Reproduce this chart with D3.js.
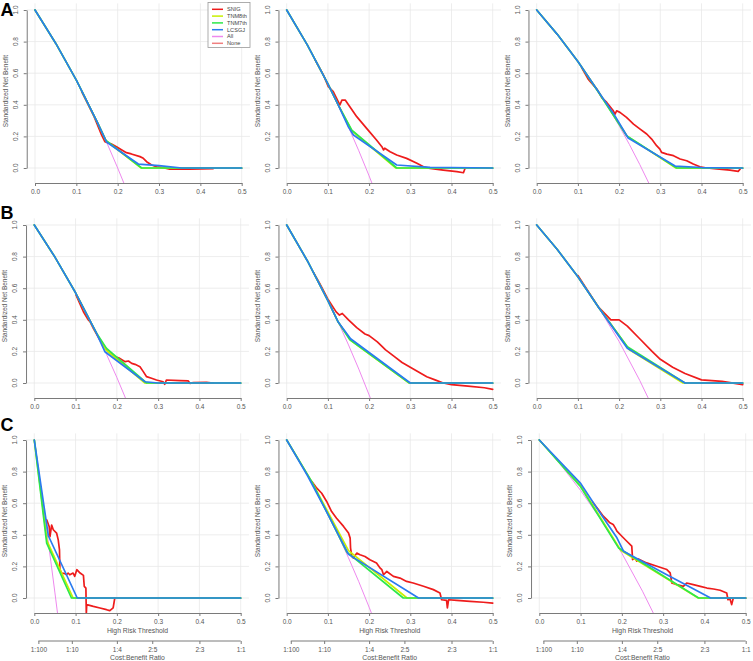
<!DOCTYPE html>
<html><head><meta charset="utf-8">
<script src="https://cdn.jsdelivr.net/npm/d3@7"></script>
<style>body{margin:0;background:#fff} svg{display:block;font-family:"Liberation Sans",Arial,sans-serif}</style>
</head><body><svg id="chart" width="753" height="661"></svg>
<script>
// ---------- shared labels ----------
const seriesNames = ["SNIG","TNM8th","TNM7th","LCSGJ","All","None"];
const thresholdTicks = [0,0.1,0.2,0.3,0.4,0.5];
const benefitTicks = [0,0.2,0.4,0.6,0.8,1.0];
const costBenefitLabels = ["1:100","1:10","1:4","2:5","2:3","1:1"];
const costBenefitAt = [0.0099,0.0909,0.2,0.2857,0.4,0.5];
const panelLetters = ["A","B","C"];

// ---------- row A ----------
const a1Snig = [[0.113,0.483],[0.143,0.325],[0.161,0.209],[0.169,0.167],[0.185,0.152],[0.197,0.135],[0.221,0.097],[0.233,0.089],[0.254,0.072],[0.262,0.061],[0.27,0.04],[0.282,0.019],[0.294,0.008],[0.31,0.002],[0.326,-0.008],[0.374,-0.008],[0.431,-0.004]];
const a1Tnm8 = [[0,1],[0.05,0.79],[0.1,0.556],[0.15,0.294],[0.172,0.172],[0.257,0],[0.5,0]];
const a1Tnm7 = [[0,1],[0.05,0.79],[0.1,0.556],[0.15,0.294],[0.171,0.176],[0.258,0],[0.5,0]];
const a1Lcsgj = [[0,1],[0.05,0.79],[0.1,0.556],[0.15,0.294],[0.173,0.165],[0.25,0.025],[0.3,0.015],[0.355,0],[0.5,0]];
const a1All = [[0,1],[0.025,0.897],[0.05,0.79],[0.075,0.676],[0.1,0.556],[0.125,0.429],[0.15,0.294],[0.175,0.152],[0.2,0],[0.216,-0.102]];

const a2Snig = [[0.069,0.684],[0.089,0.589],[0.101,0.515],[0.113,0.483],[0.125,0.42],[0.129,0.399],[0.134,0.43],[0.142,0.43],[0.17,0.325],[0.194,0.251],[0.218,0.177],[0.231,0.135],[0.235,0.114],[0.238,0.125],[0.251,0.103],[0.267,0.082],[0.291,0.061],[0.316,0.03],[0.332,0.008],[0.348,-0.002],[0.38,-0.013],[0.413,-0.023],[0.429,-0.03],[0.433,-0.002]];
const a2Tnm8 = [[0,1],[0.05,0.779],[0.1,0.533],[0.125,0.4],[0.158,0.235],[0.265,0],[0.5,0]];
const a2Tnm7 = [[0,1],[0.05,0.779],[0.1,0.533],[0.125,0.4],[0.158,0.24],[0.267,0],[0.5,0]];
const a2Lcsgj = [[0,1],[0.05,0.779],[0.1,0.533],[0.125,0.4],[0.15,0.259],[0.162,0.209],[0.267,0.019],[0.348,0.004],[0.5,0]];
const a2All = [[0,1],[0.025,0.892],[0.05,0.779],[0.075,0.659],[0.1,0.533],[0.125,0.4],[0.15,0.259],[0.175,0.109],[0.2,-0.05],[0.21,-0.117]];

const a3Snig = [[0.109,0.636],[0.125,0.562],[0.146,0.499],[0.158,0.446],[0.17,0.415],[0.186,0.362],[0.19,0.341],[0.194,0.362],[0.202,0.352],[0.218,0.32],[0.235,0.278],[0.251,0.246],[0.267,0.215],[0.279,0.183],[0.291,0.141],[0.299,0.12],[0.303,0.099],[0.316,0.088],[0.332,0.078],[0.348,0.057],[0.364,0.046],[0.38,0.025],[0.396,0.008],[0.413,0],[0.437,-0.006],[0.469,-0.013],[0.489,-0.021],[0.494,-0.006]];
const a3Tnm8 = [[0,1],[0.05,0.846],[0.1,0.674],[0.15,0.483],[0.22,0.2],[0.338,0],[0.5,0]];
const a3Tnm7 = [[0,1],[0.05,0.846],[0.1,0.674],[0.15,0.48],[0.218,0.205],[0.34,0],[0.5,0]];
const a3Lcsgj = [[0,1],[0.05,0.846],[0.1,0.674],[0.15,0.483],[0.19,0.33],[0.222,0.19],[0.336,0.012],[0.4,0.003],[0.5,0]];
const a3All = [[0,1],[0.025,0.925],[0.05,0.846],[0.075,0.762],[0.1,0.674],[0.125,0.581],[0.15,0.483],[0.175,0.378],[0.2,0.268],[0.225,0.149],[0.25,0.023],[0.275,-0.111]];

// ---------- row B ----------
const b1Snig = [[0.101,0.557],[0.119,0.451],[0.131,0.399],[0.135,0.388],[0.143,0.346],[0.159,0.272],[0.167,0.241],[0.179,0.198],[0.195,0.167],[0.207,0.156],[0.22,0.135],[0.228,0.139],[0.236,0.124],[0.244,0.118],[0.256,0.103],[0.264,0.072],[0.272,0.04],[0.284,0.03],[0.296,0.019],[0.312,0.008],[0.316,-0.008],[0.32,0.019],[0.353,0.015],[0.373,0.013],[0.377,-0.002],[0.385,0.002],[0.417,0.004],[0.433,0]];
const b1Tnm8 = [[0,1],[0.05,0.797],[0.1,0.571],[0.15,0.319],[0.174,0.209],[0.268,0],[0.5,0]];
const b1Tnm7 = [[0,1],[0.05,0.797],[0.1,0.571],[0.15,0.319],[0.175,0.219],[0.272,0],[0.5,0]];
const b1Lcsgj = [[0,1],[0.05,0.797],[0.1,0.571],[0.15,0.319],[0.171,0.198],[0.268,0.008],[0.3,0],[0.5,0]];
const b1All = [[0,1],[0.025,0.901],[0.05,0.797],[0.075,0.687],[0.1,0.571],[0.125,0.449],[0.15,0.319],[0.175,0.181],[0.2,0.035],[0.225,-0.121]];

const b2Snig = [[0.065,0.7],[0.08,0.63],[0.1,0.53],[0.12,0.45],[0.128,0.43],[0.135,0.44],[0.15,0.4],[0.17,0.35],[0.19,0.31],[0.2,0.3],[0.22,0.26],[0.24,0.21],[0.26,0.17],[0.28,0.13],[0.3,0.1],[0.32,0.07],[0.34,0.04],[0.36,0.02],[0.38,0.0],[0.4,-0.01],[0.44,-0.02],[0.48,-0.03],[0.5,-0.04]];
const b2Tnm8 = [[0,1],[0.05,0.774],[0.1,0.522],[0.125,0.386],[0.155,0.27],[0.297,0],[0.5,0]];
const b2Tnm7 = [[0,1],[0.05,0.774],[0.1,0.522],[0.125,0.386],[0.153,0.275],[0.298,0],[0.5,0]];
const b2Lcsgj = [[0,1],[0.05,0.774],[0.1,0.522],[0.125,0.386],[0.155,0.28],[0.3,0],[0.5,0]];
const b2All = [[0,1],[0.025,0.89],[0.05,0.774],[0.075,0.651],[0.1,0.522],[0.125,0.386],[0.15,0.241],[0.175,0.088],[0.2,-0.075],[0.21,-0.143]];

const b3Snig = [[0.1,0.68],[0.12,0.6],[0.15,0.48],[0.18,0.4],[0.2,0.4],[0.22,0.36],[0.25,0.28],[0.28,0.2],[0.3,0.15],[0.33,0.1],[0.36,0.06],[0.4,0.02],[0.45,0.01],[0.5,-0.01]];
const b3Tnm8 = [[0,1],[0.05,0.845],[0.1,0.672],[0.15,0.479],[0.225,0.21],[0.355,0],[0.5,0]];
const b3Tnm7 = [[0,1],[0.05,0.845],[0.1,0.672],[0.15,0.479],[0.22,0.23],[0.36,0],[0.5,0]];
const b3Lcsgj = [[0,1],[0.05,0.845],[0.1,0.672],[0.15,0.479],[0.22,0.22],[0.36,0],[0.5,0]];
const b3All = [[0,1],[0.05,0.845],[0.1,0.672],[0.15,0.479],[0.2,0.263],[0.25,0.017],[0.275,-0.119]];

// ---------- row C ----------
const c1Snig = [[0.03,0.495],[0.036,0.453],[0.038,0.389],[0.042,0.461],[0.046,0.432],[0.054,0.411],[0.058,0.368],[0.061,0.305],[0.062,0.179],[0.066,0.158],[0.074,0.154],[0.078,0.147],[0.082,0.158],[0.086,0.147],[0.094,0.158],[0.098,0.137],[0.103,0.179],[0.111,0.158],[0.119,0.143],[0.121,0.074],[0.125,0.063],[0.126,-0.1],[0.127,-0.042],[0.143,-0.053],[0.159,-0.063],[0.175,-0.074],[0.183,-0.08],[0.191,-0.063],[0.195,0]];
const c1Tnm8 = [[0,1],[0.031,0.36],[0.094,0],[0.5,0]];
const c1Tnm7 = [[0,1],[0.03,0.347],[0.09,0],[0.5,0]];
const c1Lcsgj = [[0,1],[0.034,0.394],[0.104,0],[0.5,0]];
const c1All = [[0,1],[0.01,0.814],[0.02,0.624],[0.03,0.431],[0.04,0.233],[0.05,0.032],[0.057,-0.112]];

const c2Snig = [[0.061,0.737],[0.073,0.695],[0.085,0.663],[0.097,0.611],[0.109,0.547],[0.121,0.505],[0.138,0.453],[0.15,0.411],[0.154,0.379],[0.155,0.316],[0.158,0.263],[0.162,0.253],[0.17,0.284],[0.178,0.274],[0.19,0.263],[0.202,0.242],[0.218,0.221],[0.227,0.189],[0.231,0.179],[0.235,0.147],[0.243,0.168],[0.259,0.137],[0.275,0.126],[0.291,0.105],[0.307,0.095],[0.332,0.074],[0.356,0.053],[0.372,0.032],[0.376,-0.011],[0.388,-0.015],[0.39,-0.063],[0.393,-0.011],[0.413,-0.015],[0.445,-0.021],[0.477,-0.027],[0.5,-0.032]];
const c2Tnm8 = [[0,1],[0.06,0.74],[0.15,0.3],[0.292,0],[0.5,0]];
const c2Tnm7 = [[0,1],[0.06,0.74],[0.146,0.29],[0.283,0],[0.5,0]];
const c2Lcsgj = [[0,1],[0.05,0.777],[0.1,0.53],[0.15,0.276],[0.32,0],[0.5,0]];
const c2All = [[0,1],[0.025,0.892],[0.05,0.777],[0.075,0.657],[0.1,0.53],[0.125,0.396],[0.15,0.254],[0.175,0.103],[0.2,-0.058],[0.21,-0.124]];

const c3Snig = [[0.129,0.607],[0.143,0.56],[0.155,0.518],[0.163,0.497],[0.171,0.476],[0.179,0.465],[0.184,0.444],[0.188,0.423],[0.2,0.391],[0.212,0.359],[0.224,0.328],[0.226,0.243],[0.232,0.254],[0.236,0.233],[0.24,0.247],[0.26,0.222],[0.285,0.201],[0.309,0.18],[0.317,0.159],[0.321,0.095],[0.333,0.085],[0.349,0.074],[0.357,0.095],[0.373,0.085],[0.39,0.074],[0.406,0.063],[0.422,0.057],[0.438,0.049],[0.454,0.032],[0.457,-0.011],[0.462,-0.006],[0.466,-0.042],[0.47,0],[0.5,0]];
const c3Tnm8 = [[0,1],[0.099,0.715],[0.198,0.3],[0.385,0],[0.5,0]];
const c3Tnm7 = [[0,1],[0.099,0.708],[0.192,0.317],[0.386,0],[0.5,0]];
const c3Lcsgj = [[0,1],[0.099,0.729],[0.147,0.539],[0.188,0.381],[0.204,0.296],[0.301,0.159],[0.415,0],[0.5,0]];
const c3All = [[0,1],[0.05,0.849],[0.1,0.681],[0.15,0.494],[0.2,0.283],[0.25,0.043],[0.278,-0.105]];

// ---------- assemble panels ----------
const panelSeries = [
  [[a1Snig,a1Tnm8,a1Tnm7,a1Lcsgj,a1All],[a2Snig,a2Tnm8,a2Tnm7,a2Lcsgj,a2All],[a3Snig,a3Tnm8,a3Tnm7,a3Lcsgj,a3All]],
  [[b1Snig,b1Tnm8,b1Tnm7,b1Lcsgj,b1All],[b2Snig,b2Tnm8,b2Tnm7,b2Lcsgj,b2All],[b3Snig,b3Tnm8,b3Tnm7,b3Lcsgj,b3All]],
  [[c1Snig,c1Tnm8,c1Tnm7,c1Lcsgj,c1All],[c2Snig,c2Tnm8,c2Tnm7,c2Lcsgj,c2All],[c3Snig,c3Tnm8,c3Tnm7,c3Lcsgj,c3All]]
];

// ---------- styling / layout ----------
const colors = {SNIG:"#ee1c1c",TNM8th:"#c8f000",TNM7th:"#2ee84a",LCSGJ:"#2a7bef",All:"#ee88ee",None:"#f08080"};
const widths = {SNIG:1.7,TNM8th:1.7,TNM7th:1.7,LCSGJ:1.7,All:1,None:1};
const colX0 = [[35,286.7,536.7],[34.3,286.7,536.7],[34.3,286.7,539.3]];
const colX05 = [[241.7,492.7,742.7],[240.7,492.7,742.7],[240.7,492.7,745.7]];
const rowY1 = [10,225,440];
const rowY0 = [168,383,598];
const axisCol = "#7a7a7a", labCol = "#555", gridCol = "#e9e9e9";
const fmt = d3.format(".1f");

const svg = d3.select("#chart");
svg.append("rect").attr("width",753).attr("height",661).attr("fill","#fff");

panelSeries.forEach((row, r) => {
  row.forEach((series, c) => {
    const x = d3.scaleLinear().domain([0,0.5]).range([colX0[r][c], colX05[r][c]]);
    const y = d3.scaleLinear().domain([0,1]).range([rowY0[r], rowY1[r]]);
    const left = x(-0.02), right = x(0.52), top = y(1.042), bottom = y(-0.095);
    const g = svg.append("g");
    const clipId = `clip${r}${c}`;
    g.append("clipPath").attr("id", clipId).append("rect")
      .attr("x", left).attr("y", top).attr("width", right-left).attr("height", bottom-top);

    // grid
    g.selectAll(".vg").data(thresholdTicks).join("line")
      .attr("x1", d=>x(d)).attr("x2", d=>x(d)).attr("y1", top).attr("y2", bottom)
      .attr("stroke", gridCol).attr("stroke-width", 0.8);
    g.selectAll(".hg").data(benefitTicks).join("line").attr("class","hg")
      .attr("x1", left).attr("x2", right).attr("y1", d=>y(d)).attr("y2", d=>y(d))
      .attr("stroke", gridCol).attr("stroke-width", 0.8);

    // curves (the "None" reference line lies under the model curves and is hidden in the original)
    const line = d3.line().x(d=>x(d[0])).y(d=>y(d[1]));
    const lg = g.append("g").attr("clip-path", `url(#${clipId})`).attr("fill","none")
      .attr("stroke-linejoin","round").attr("stroke-linecap","round");
    const order = [["All",series[4]],["SNIG",series[0]],["TNM8th",series[1]],["TNM7th",series[2]],["LCSGJ",series[3]]];
    order.forEach(([name, data]) => {
      lg.append("path").datum(data).attr("d", line)
        .attr("stroke", colors[name]).attr("stroke-width", widths[name]);
    });

    // x axis
    const xa = g.append("g").attr("transform", `translate(0,${bottom})`)
      .call(d3.axisBottom(x).tickValues(thresholdTicks).tickFormat(fmt).tickSize(3).tickSizeOuter(0).tickPadding(3));
    xa.select(".domain").attr("stroke", axisCol);
    xa.selectAll(".tick line").attr("stroke", axisCol);
    xa.selectAll("text").attr("fill", labCol).attr("font-size", 6.5).attr("font-family","Liberation Sans, Arial, sans-serif");

    // y axis
    const ya = g.append("g").attr("transform", `translate(${left},0)`)
      .call(d3.axisLeft(y).tickValues(benefitTicks).tickFormat("").tickSize(3).tickSizeOuter(0));
    ya.select(".domain").attr("stroke", axisCol);
    ya.selectAll(".tick line").attr("stroke", axisCol);
    g.selectAll(".ylab").data(benefitTicks).join("text")
      .attr("transform", d=>`translate(${left-11},${y(d)}) rotate(-90)`)
      .attr("text-anchor","middle").attr("dy","0.35em")
      .attr("font-size", 6.5).attr("fill", labCol).text(fmt);
    g.append("text")
      .attr("transform", `translate(${left-21},${(y(0)+y(1))/2+2}) rotate(-90)`)
      .attr("text-anchor","middle").attr("dy","0.35em")
      .attr("font-size", 6.5).attr("fill", labCol).text("Standardized Net Benefit");

    if (r === 2) {
      const cx = (left+right)/2;
      g.append("text").attr("x", cx).attr("y", bottom+18).attr("dy","0.35em")
        .attr("text-anchor","middle").attr("font-size", 6.8).attr("fill", labCol).text("High Risk Threshold");
      const cb = d3.scaleOrdinal().domain(costBenefitLabels).range(costBenefitAt.map(v=>x(v)));
      const axis2 = d3.axisBottom(cb).tickSize(3).tickSizeOuter(0).tickPadding(3);
      const a2 = g.append("g").attr("transform", `translate(0,${bottom+28})`);
      a2.call(axis2);
      a2.select(".domain").attr("d", `M${x(costBenefitAt[0])},0H${x(costBenefitAt[5])}`).attr("stroke", axisCol);
      a2.selectAll(".tick line").attr("stroke", axisCol);
      a2.selectAll("text").attr("fill", labCol).attr("font-size", 6.5).attr("font-family","Liberation Sans, Arial, sans-serif");
      g.append("text").attr("x", cx).attr("y", bottom+45).attr("dy","0.35em")
        .attr("text-anchor","middle").attr("font-size", 6.8).attr("fill", labCol).text("Cost:Benefit Ratio");
    }

    if (r === 0 && c === 0) {
      const lgd = g.append("g");
      lgd.append("rect").attr("x", 208).attr("y", 2.5).attr("width", 42).attr("height", 45)
        .attr("fill","#fff").attr("stroke","#999").attr("stroke-width",0.8);
      seriesNames.forEach((name, i) => {
        const yy = 9.3 + i*6.8;
        lgd.append("line").attr("x1", 212).attr("x2", 223).attr("y1", yy).attr("y2", yy)
          .attr("stroke", colors[name]).attr("stroke-width", 1.5);
        lgd.append("text").attr("x", 227).attr("y", yy).attr("dy","0.35em")
          .attr("font-size", 5.6).attr("fill", "#444").text(name);
      });
    }
  });
  svg.append("text").attr("x", 0.5).attr("y", [15.5,218.5,430.5][r])
    .attr("font-size", 18).attr("font-weight","bold").attr("fill","#000").text(panelLetters[r]);
});
</script></body></html>
